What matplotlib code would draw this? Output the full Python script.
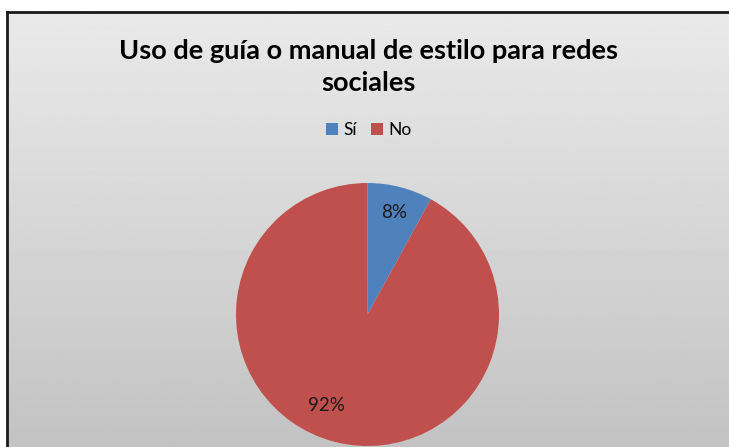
import numpy as np
import matplotlib
matplotlib.use('Agg')
import matplotlib.pyplot as plt
from matplotlib.patches import Patch

plt.rcParams['font.family'] = ['Lato', 'DejaVu Sans']

# data
labels = ['Sí', 'No']
values = [8, 92]
colors = ['#4F81BD', '#C0504D']
title = 'Uso de guía o manual de estilo para redes\nsociales'

fig = plt.figure(figsize=(7.29, 4.47), dpi=100)
fig.patch.set_facecolor('white')

# background panel with vertical gradient
bg = fig.add_axes([7 / 729, -0.02, 1.05, (447 - 12) / 447 + 0.02])
grad = np.linspace(0.915, 0.76, 256).reshape(-1, 1)
bg.imshow(grad, aspect='auto', cmap='gray', vmin=0, vmax=1, extent=[0, 1, 0, 1])
bg.set_xticks([])
bg.set_yticks([])
for side in ['right', 'bottom']:
    bg.spines[side].set_visible(False)
for side in ['top', 'left']:
    bg.spines[side].set_linewidth(2)
    bg.spines[side].set_color('#1a1a1a')

fig.text(0.505, 1 - 67 / 447, title, ha='center', va='center',
         fontsize=19.5, fontweight='bold', linespacing=1.4)

# pie
ax = fig.add_axes([236 / 729, 1 / 447, 263 / 729, 263 / 447])
wedges, texts, autotexts = ax.pie(values, colors=colors, startangle=90, counterclock=False,
                                  autopct='%1.0f%%', pctdistance=0.8,
                                  textprops={'fontsize': 13.5, 'color': '#1a1a1a'})
autotexts[1].set_position((-0.31, -0.69))
ax.set_xlim(-1, 1)
ax.set_ylim(-1, 1)

handles = [Patch(facecolor=c, label=l) for c, l in zip(colors, labels)]
fig.legend(handles=handles, loc='center', bbox_to_anchor=(0.506, 1 - 130 / 447), ncol=2,
           frameon=False, fontsize=12.5, handlelength=0.7, handleheight=0.7,
           handletextpad=0.3, columnspacing=0.8)

fig.savefig('out.png', dpi=100)
